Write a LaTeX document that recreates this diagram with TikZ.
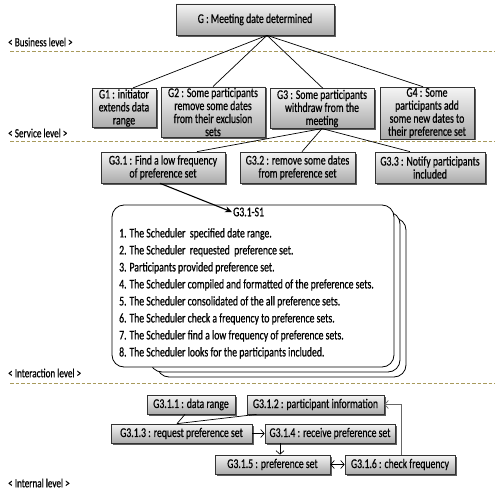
\documentclass[tikz,border=0pt]{standalone}
\usepackage{fontspec}
\setmainfont{Carlito}[FakeStretch=0.73, FakeBold=0.6]
\usetikzlibrary{shadows,arrows.meta}
\definecolor{levelline}{HTML}{A89A5C}
\newcommand\boxfont{\fontsize{13.3}{13}\selectfont}
\newcommand\listfont{\fontsize{13.3}{17}\selectfont}
\newcommand\lvlfont{\fontsize{12.5}{14}\selectfont}
\begin{document}
\begin{tikzpicture}[x=1pt,y=-1pt,
  gbox/.style={draw=black!80, line width=0.7pt, top color=black!4, bottom color=black!33,
    drop shadow={shadow xshift=1.6pt, shadow yshift=-1.6pt, fill=black!75, opacity=0.85},
    align=center, inner sep=1pt, font=\boxfont},
  ibox/.style={gbox, minimum height=19},
  conn/.style={draw=black, line width=0.7pt},
  openarrow/.style={-{Straight Barb[length=3.5pt,width=8pt]}},
  lvl/.style={anchor=west, inner sep=0pt, font=\lvlfont},
  lvlline/.style={draw=levelline, line width=1pt, dash pattern=on 3.5pt off 2pt},
  stack/.style={draw=black, line width=0.8pt, fill=white, rounded corners=12}]
\useasboundingbox (0,0) rectangle (495,492);

% level labels and separators
\node[lvl] (lbus) at (8,42) {< Business level >};
\draw[lvlline] (10,52) -- (495,52);
\node[lvl] (lser) at (8,133) {< Service level >};
\draw[lvlline] (10,141) -- (495,141);
\node[lvl] (lint) at (8,373) {< Interaction level >};
\draw[lvlline] (10,383) -- (495,383);
\node[lvl] (linr) at (8,483) {< Internal level >};

% business goal
\node[gbox, minimum width=158, minimum height=31] (G) at (255,19.5) {G : Meeting date determined};

% service goals
\node[gbox, minimum width=64, minimum height=38] (G1) at (124,108) {G1 : initiator\\extends data\\range};
\node[gbox, minimum width=104, minimum height=46] (G2) at (213,112) {G2 : Some participants\\remove some dates\\from their exclusion\\sets};
\node[gbox, minimum width=104, minimum height=39] (G3) at (322,108.5) {G3 : Some participants\\withdraw from the\\meeting};
\node[gbox, minimum width=94, minimum height=48] (G4) at (427,113) {G4 : Some\\participants add\\some new dates to\\their preference set};

\draw[conn] ([xshift=12]G.south) -- ([xshift=9]G1.north);
\draw[conn] ([xshift=12]G.south) -- (G2.north);
\draw[conn] ([xshift=12]G.south) -- ([xshift=1]G3.north);
\draw[conn] ([xshift=12]G.south) -- ([xshift=-4]G4.north);

% sub-goals of G3
\node[gbox, minimum width=124, minimum height=31] (G31) at (163,167.5) {G3.1 : Find a low frequency\\of preference set};
\node[gbox, minimum width=115, minimum height=31] (G32) at (297.5,167.5) {G3.2 : remove some dates\\from preference set};
\node[gbox, minimum width=110, minimum height=31] (G33) at (430,167.5) {G3.3 : Notify participants\\included};

\draw[conn] (G3.south) -- ([xshift=34]G31.north);
\draw[conn] (G3.south) -- ([xshift=4.5]G32.north);
\draw[conn] (G3.south) -- ([xshift=-20]G33.north);

% scenario stack
\draw[stack] (157,218) rectangle (406,377);
\draw[stack] (150,212) rectangle (400,372);
\node[stack, minimum width=282, minimum height=162] (scen) at (253,286) {};

\node[anchor=west, inner sep=1pt, font=\boxfont] (S1) at (232,212) {G3.1-S1};
\draw[conn, line width=1.1pt, -{Stealth[length=7pt,width=6pt]}] ([xshift=-3]G31.south) -- (S1.west);

\node[anchor=north west, align=left, inner sep=0pt, font=\listfont] (steps) at (119,228) {%
1. The Scheduler\ \ specified date range.\\
2. The Scheduler\ \ requested\ \ preference set.\\
3. Participants provided preference set.\\
4. The Scheduler compiled and formatted of the preference sets.\\
5. The Scheduler consolidated of the all preference sets.\\
6. The Scheduler check a frequency to preference sets.\\
7. The Scheduler find a low frequency of preference sets.\\
8. The Scheduler looks for the participants included.};

% internal goals
\node[ibox, minimum width=88] (G311) at (191,404.5) {G3.1.1 : data range};
\node[ibox, minimum width=137] (G312) at (315.5,404.5) {G3.1.2 : participant information};
\node[ibox, minimum width=141] (G313) at (181.5,433.5) {G3.1.3 : request preference set};
\node[ibox, minimum width=130] (G314) at (330,433.5) {G3.1.4 : receive preference set};
\node[ibox, minimum width=115] (G315) at (272.5,464.5) {G3.1.5 : preference set};
\node[ibox, minimum width=110] (G316) at (400,464.5) {G3.1.6 : check frequency};

\coordinate (join) at ([xshift=-4.5]G313.north);
\draw[conn] ([xshift=-6]G311.south) -- (join);
\draw[conn] ([xshift=10]G312.south west) -- (join);
\draw[conn, openarrow] (G313) -- (G314);
\draw[conn, openarrow] ([xshift=-50]G314.south) -- ([xshift=7.5]G315.north);
\draw[conn, {Straight Barb[length=3.5pt,width=8pt]}-{Straight Barb[length=3.5pt,width=8pt]}] (G315) -- (G316);
\draw[conn, draw=black!60, openarrow] ([xshift=1]G316.north) |- (G312.east);
\end{tikzpicture}
\end{document}
